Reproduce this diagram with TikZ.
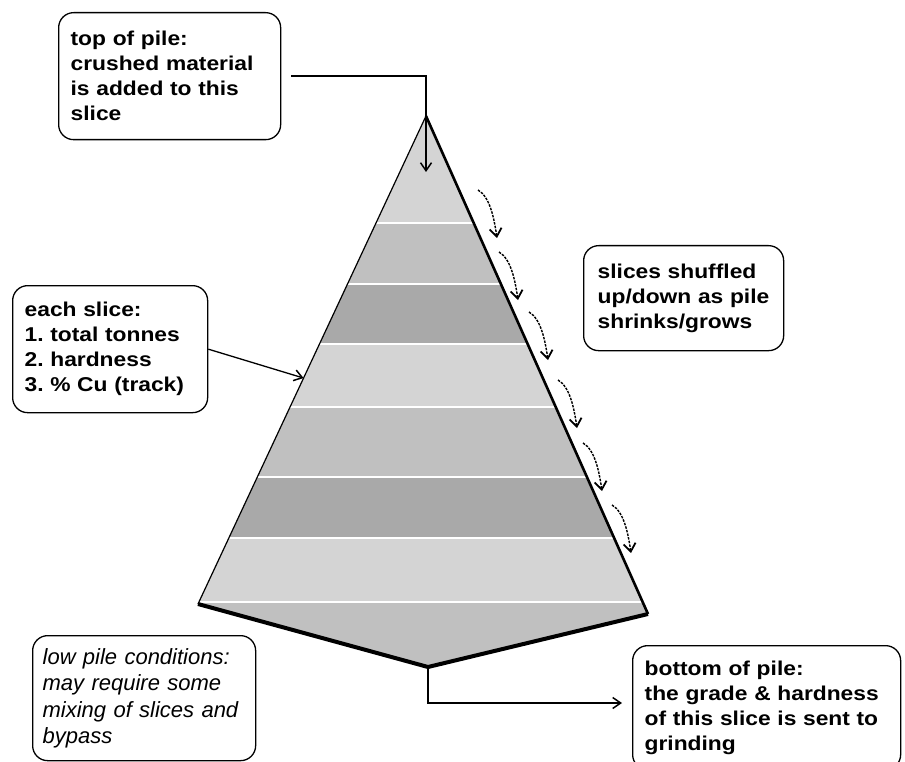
\documentclass[tikz,border=0pt]{standalone}
\usepackage{fontspec}
\setmainfont{Liberation Sans}
\newfontfamily\notefont[FakeStretch=1.14]{Liberation Sans}
\usetikzlibrary{arrows.meta,calc}
\definecolor{slicelight}{RGB}{212,212,212}
\definecolor{slicemid}{RGB}{192,192,192}
\definecolor{slicedark}{RGB}{169,169,169}
\tikzset{
  note/.style={
    draw=black,
    line width=1.3pt,
    rounded corners=15pt,
    anchor=north west,
    align=left,
    inner xsep=12pt,
    inner ysep=0pt,
    font=\notefont\bfseries\fontsize{20}{25}\selectfont\frenchspacing
  },
  note-italic/.style={
    note,
    inner xsep=10pt,
    font=\itshape\fontsize{22}{26.5}\selectfont
  },
  pointer/.style={line width=1.3pt, -{Straight Barb[length=8pt,width=11pt,line width=1.5pt]}},
  shuffle/.style={line width=1.4pt, dash pattern=on 2.5pt off 1.2pt, -{Straight Barb[length=8pt,width=12pt,line width=1.8pt]}},
  pile-edge/.style={line width=1.2pt, line join=miter},
  pile-base/.style={line width=4pt, line join=miter}
}

\begin{document}
\begin{tikzpicture}[x=1pt,y=-1pt]
  \useasboundingbox (0,0) rectangle (905,762);
  \clip (0,0) rectangle (905,762);
  % Pile corners
  \coordinate (apex) at (426,116);
  \coordinate (lbot) at (198,604);
  \coordinate (rbot) at (648,614);
  \coordinate (tip) at (428,667);
  % Slices
  \begin{scope}
    \clip (apex) -- (rbot) -- (tip) -- (lbot) -- cycle;
    \foreach \ytop/\ybot/\shade in {100/223/slicelight, 223/284/slicemid, 284/344/slicedark,
        344/407/slicelight, 407/477/slicemid, 477/538/slicedark, 538/602/slicelight, 602/680/slicemid}
      \fill[\shade] (150,\ytop) rectangle (700,\ybot);
    \foreach \y in {223,284,344,407,477,538,602}
      \draw[white, line width=1.8pt] (150,\y) -- (700,\y);
  \end{scope}
  % Pile outline
  \draw[pile-edge] (lbot) -- (apex);
  \draw[pile-edge, line width=2.6pt] (apex) -- (rbot);
  \draw[pile-base] (lbot) -- (tip) -- (rbot);

  % Notes
  \node[note, text width=198pt, minimum height=127pt] (top) at (58,12)
    {top of pile:\\crushed material\\is added to this\\slice};
  \node[note, text width=171pt, minimum height=127pt] (each) at (12,285)
    {each slice:\\1. total tonnes\\2. hardness\\3. \% Cu (track)};
  \node[note, inner xsep=14pt, text width=172pt, minimum height=105pt] (shuffled) at (583,245)
    {slices shuffled\\up/down as pile\\shrinks/grows};
  \node[note-italic, text width=203pt, minimum height=125pt] (low) at (32,635)
    {low pile conditions:\\may require some\\mixing of slices and\\bypass};
  \node[note, text width=244pt, minimum height=124pt] (bottom) at (632,645)
    {bottom of pile:\\the grade \& hardness\\of this slice is sent to\\grinding};

  % Connectors
  \coordinate (feed) at (426,172);
  \coordinate (side) at ($(apex)!0.537!(lbot)$);
  \coordinate (out) at (622,703);
  \draw[pointer] ([xshift=10pt]top.east) -| (feed);
  \draw[pointer] (each.east) -- (side);
  \draw[pointer] (tip) |- (out);

  % Shuffle arrows along the pile face
  \foreach \x/\y in {478/190, 499/252, 529/312, 558/380, 583/443, 612/505}
    \draw[shuffle] (\x,\y) .. controls +(12,7) and +(-3,-20) .. ({\x+19},{\y+48});
\end{tikzpicture}
\end{document}
